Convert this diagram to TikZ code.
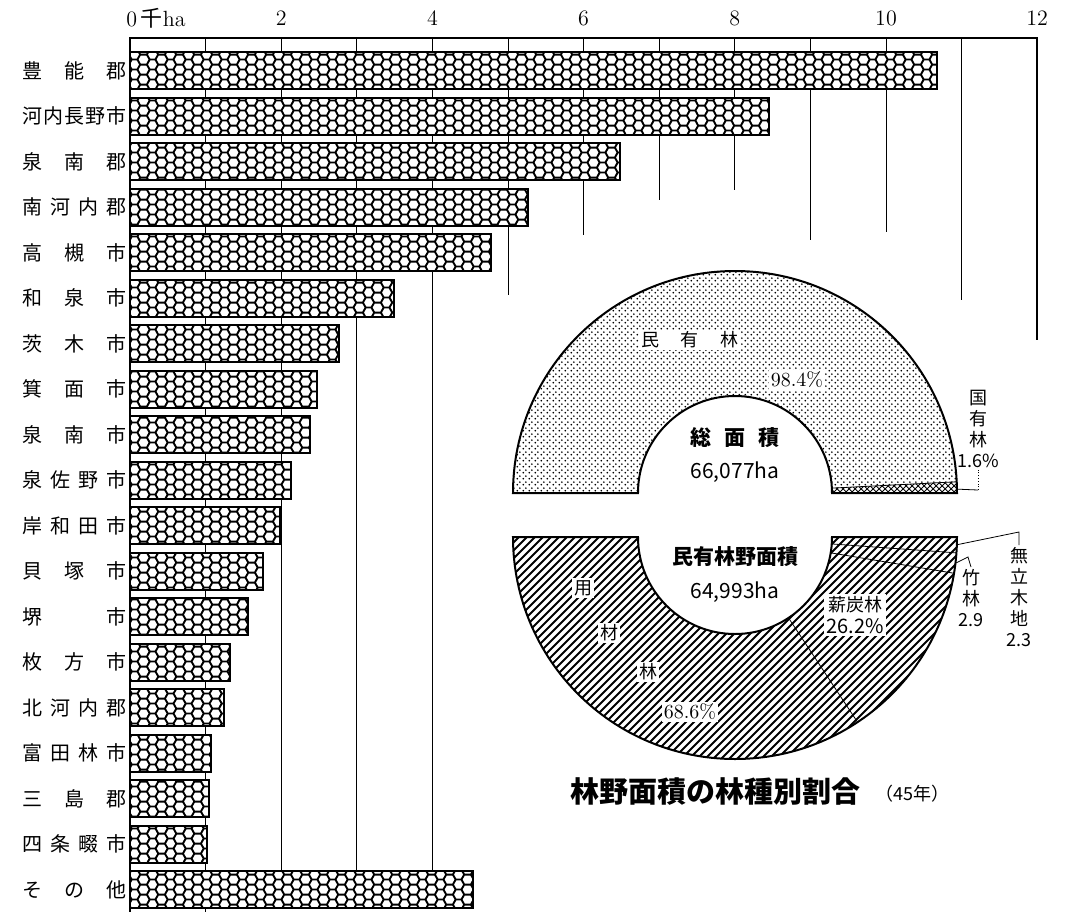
\documentclass[tikz,border=0pt]{standalone}
\usepackage{fontspec}
\newfontfamily\jp{Noto Sans CJK JP}
\usetikzlibrary{patterns}

% fill patterns for the bars and the two half rings
\pgfdeclarepatternformonly{honeycomb}{\pgfqpoint{0pt}{0pt}}{\pgfqpoint{9pt}{5.196pt}}{\pgfqpoint{9pt}{5.196pt}}{%
  \pgfsetlinewidth{1pt}
  \pgfpathmoveto{\pgfqpoint{3pt}{1.299pt}}\pgfpathlineto{\pgfqpoint{6pt}{1.299pt}}
  \pgfpathmoveto{\pgfqpoint{-0.5pt}{3.897pt}}\pgfpathlineto{\pgfqpoint{1.5pt}{3.897pt}}
  \pgfpathmoveto{\pgfqpoint{7.5pt}{3.897pt}}\pgfpathlineto{\pgfqpoint{9.5pt}{3.897pt}}
  \pgfpathmoveto{\pgfqpoint{1.5pt}{3.897pt}}\pgfpathlineto{\pgfqpoint{3pt}{1.299pt}}
  \pgfpathmoveto{\pgfqpoint{6pt}{1.299pt}}\pgfpathlineto{\pgfqpoint{7.5pt}{3.897pt}}
  \pgfpathmoveto{\pgfqpoint{1.5pt}{3.897pt}}\pgfpathlineto{\pgfqpoint{2.4pt}{5.456pt}}
  \pgfpathmoveto{\pgfqpoint{2.1pt}{-0.26pt}}\pgfpathlineto{\pgfqpoint{3pt}{1.299pt}}
  \pgfpathmoveto{\pgfqpoint{6.6pt}{5.456pt}}\pgfpathlineto{\pgfqpoint{7.5pt}{3.897pt}}
  \pgfpathmoveto{\pgfqpoint{6pt}{1.299pt}}\pgfpathlineto{\pgfqpoint{6.9pt}{-0.26pt}}
  \pgfusepath{stroke}}
\pgfdeclarepatternformonly{fdots}{\pgfqpoint{0pt}{0pt}}{\pgfqpoint{3pt}{3pt}}{\pgfqpoint{3pt}{3pt}}{%
  \pgfpathcircle{\pgfqpoint{0.75pt}{0.75pt}}{0.55pt}
  \pgfpathcircle{\pgfqpoint{2.25pt}{2.25pt}}{0.55pt}
  \pgfusepath{fill}}
\pgfdeclarepatternformonly{hatch}{\pgfqpoint{-1pt}{-1pt}}{\pgfqpoint{5pt}{5pt}}{\pgfqpoint{4pt}{4pt}}{%
  \pgfsetlinewidth{1pt}
  \pgfpathmoveto{\pgfqpoint{0pt}{0pt}}\pgfpathlineto{\pgfqpoint{4.1pt}{4.1pt}}
  \pgfusepath{stroke}}

\begin{document}
\begin{tikzpicture}[x=0.5pt,y=-0.5pt]
\tikzstyle{bar}=[line width=1pt,preaction={fill=white},pattern=honeycomb]
\tikzstyle{town}=[font=\jp\fontsize{10}{10}\selectfont,inner sep=0pt]
\tikzstyle{tick}=[font=\fontsize{11}{11}\selectfont,inner sep=1pt]
\tikzstyle{grid}=[line width=0.4pt]
\tikzstyle{ring}=[line width=1pt]
\tikzstyle{tag}=[font=\jp\fontsize{9}{11}\selectfont,fill=white,inner sep=1pt,align=center]
\tikzstyle{side}=[font=\jp\fontsize{9}{10.5}\selectfont,inner sep=1pt,align=center]
\tikzstyle{core}=[font=\jp\bfseries\fontsize{10.5}{12}\selectfont,inner sep=1pt]
\useasboundingbox (0,0) rectangle (1073,912);

% scale and grid
\node[tick,anchor=west] (t0) at (124,18) {0\,{\jp 千}ha};
\foreach \k in {2,4,...,12}
  \node[tick] (t\k) at ({130+75.6*\k},18) {\k};
\foreach \k/\e in {1/912,2/880,3/880,4/875,5/295,6/235,7/200,8/190,9/240,10/232,11/300}
  \draw[grid] ({130+75.6*\k},38) -- ({130+75.6*\k},\e);
\draw[line width=1pt] (130,912) -- (130,38) -- (1037,38) -- (1037,340);

% bars
\foreach \v/\t [count=\i from 0] in {10.67/{豊\hfill 能\hfill 郡},8.45/{河\hfill 内\hfill 長\hfill 野\hfill 市},
    6.48/{泉\hfill 南\hfill 郡},5.27/{南\hfill 河\hfill 内\hfill 郡},4.77/{高\hfill 槻\hfill 市},
    3.49/{和\hfill 泉\hfill 市},2.76/{茨\hfill 木\hfill 市},2.48/{箕\hfill 面\hfill 市},
    2.38/{泉\hfill 南\hfill 市},2.13/{泉\hfill 佐\hfill 野\hfill 市},1.98/{岸\hfill 和\hfill 田\hfill 市},
    1.76/{貝\hfill 塚\hfill 市},1.56/{堺\hfill 市},1.32/{枚\hfill 方\hfill 市},
    1.24/{北\hfill 河\hfill 内\hfill 郡},1.07/{富\hfill 田\hfill 林\hfill 市},1.04/{三\hfill 島\hfill 郡},
    1.02/{四\hfill 条\hfill 畷\hfill 市},4.54/{そ\hfill の\hfill 他}}{
  \draw[bar] (130,{52+45.5*\i}) rectangle ({130+75.6*\v},{89+45.5*\i});
  \node[town] (n\i) at (74.5,{70.5+45.5*\i}) {\makebox[52pt]{\t}};
}

% upper ring
\begin{scope}[shift={(735,493)},y=0.5pt]
\fill[pattern=fdots] (180:222) arc[start angle=180,end angle=2.9,radius=222]
  -- (2.9:97) arc[start angle=2.9,end angle=180,radius=97] -- cycle;
\fill[pattern=crosshatch] (2.9:222) arc[start angle=2.9,end angle=0,radius=222]
  -- (0:97) arc[start angle=0,end angle=2.9,radius=97] -- cycle;
\draw[grid] (2.9:97) -- (2.9:222);
\draw[ring] (180:222) arc[start angle=180,end angle=0,radius=222]
  -- (0:97) arc[start angle=0,end angle=180,radius=97] -- cycle;
\coordinate (kokuE) at (1:222);
\end{scope}

% lower ring
\begin{scope}[shift={(735,537)},y=0.5pt]
\fill[pattern=hatch] (180:222) arc[start angle=180,end angle=360,radius=222]
  -- (360:97) arc[start angle=360,end angle=180,radius=97] -- cycle;
\draw[grid] (303.5:97) -- (303.5:222) (350.6:97) -- (350.6:222) (355.9:97) -- (355.9:222);
\draw[ring] (180:222) arc[start angle=180,end angle=360,radius=222]
  -- (360:97) arc[start angle=360,end angle=180,radius=97] -- cycle;
\coordinate (murE) at (358:222);
\coordinate (chkE) at (353.2:222);
\end{scope}

% ring labels
\node[tag] (minL) at (690,340) {民\hspace{1.2em}有\hspace{1.2em}林};
\node[tag,font=\fontsize{10}{11}\selectfont] (minP) at (797,380) {98.4\%};
\node[core] (soL) at (735,438) {総\hspace{0.6em}面\hspace{0.6em}積};
\node[core,font=\jp\fontsize{10.5}{12}\selectfont] (soV) at (735,472) {66,077ha};
\node[core] (yuL) at (735,557) {民有林野面積};
\node[core,font=\jp\fontsize{10.5}{12}\selectfont] (yuV) at (735,592) {64,993ha};
\node[tag] (yo1) at (583,588) {用};
\node[tag] (yo2) at (609,633) {材};
\node[tag] (yo3) at (648,672) {林};
\node[tag,font=\fontsize{10}{11}\selectfont] (yoP) at (690,712) {68.6\%};
\node[tag] (shL) at (855,615) {薪炭林\\{\fontsize{10}{11}\selectfont 26.2\%}};

% side labels and leaders
\node[side,anchor=south] (kokuL) at (978,470) {国\\有\\林\\1.6\%};
\coordinate (kokuK) at (978,490);
\draw[grid] (kokuE) -- (kokuK);
\draw[grid,densely dotted] (kokuK) -- (kokuL.south);
\node[side,anchor=north] (murL) at (1019,545) {無\\立\\木\\地\\2.3};
\coordinate (murK) at (1019,532);
\draw[grid] (murE) -- (murK) -- (murL.north);
\node[side,anchor=north] (chkL) at (971,567) {竹\\林\\2.9};
\coordinate (chkK) at (968,557);
\draw[grid] (chkE) -- (chkK) -- (chkL.north);

% title
\node[font=\jp\bfseries\fontsize{14.5}{16}\selectfont] (title) at (715,792) {林野面積の林種別割合};
\node[font=\jp\fontsize{9}{10}\selectfont,anchor=west] (year) at (868,794) {（45年）};
\end{tikzpicture}
\end{document}
